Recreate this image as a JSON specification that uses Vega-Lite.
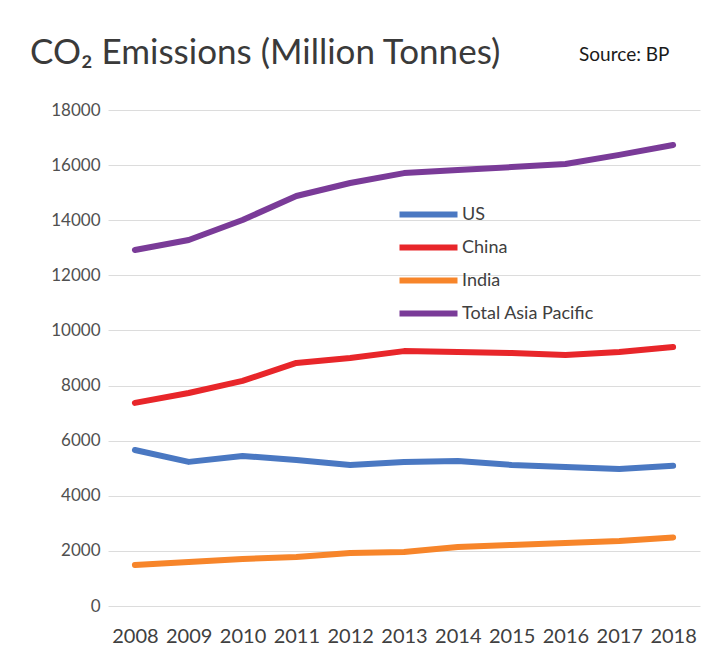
{
  "$schema": "https://vega.github.io/schema/vega-lite/v6.json",
  "autosize": {"type": "none"},
  "padding": {"left": 108, "top": 110, "right": 1, "bottom": 54},
  "width": 592,
  "height": 496,
  "background": "white",
  "title": {
    "text": "CO₂ Emissions (Million Tonnes)",
    "anchor": "start",
    "frame": "group",
    "dx": -78,
    "offset": -25,
    "font": "Lato",
    "fontSize": 35,
    "fontWeight": "normal",
    "color": "#3a3a3a"
  },
  "config": {
    "view": {"stroke": null},
    "font": "Lato"
  },
  "layer": [
    {
      "data": {
        "values": [
          {"year": "2008", "series": "US", "value": 5660},
          {"year": "2009", "series": "US", "value": 5230},
          {"year": "2010", "series": "US", "value": 5445},
          {"year": "2011", "series": "US", "value": 5300},
          {"year": "2012", "series": "US", "value": 5120},
          {"year": "2013", "series": "US", "value": 5230},
          {"year": "2014", "series": "US", "value": 5265},
          {"year": "2015", "series": "US", "value": 5120},
          {"year": "2016", "series": "US", "value": 5045},
          {"year": "2017", "series": "US", "value": 4975},
          {"year": "2018", "series": "US", "value": 5090},
          {"year": "2008", "series": "China", "value": 7370},
          {"year": "2009", "series": "China", "value": 7730},
          {"year": "2010", "series": "China", "value": 8170},
          {"year": "2011", "series": "China", "value": 8820},
          {"year": "2012", "series": "China", "value": 9000},
          {"year": "2013", "series": "China", "value": 9250},
          {"year": "2014", "series": "China", "value": 9220},
          {"year": "2015", "series": "China", "value": 9180},
          {"year": "2016", "series": "China", "value": 9110},
          {"year": "2017", "series": "China", "value": 9220},
          {"year": "2018", "series": "China", "value": 9400},
          {"year": "2008", "series": "India", "value": 1490},
          {"year": "2009", "series": "India", "value": 1600},
          {"year": "2010", "series": "India", "value": 1705},
          {"year": "2011", "series": "India", "value": 1780},
          {"year": "2012", "series": "India", "value": 1920},
          {"year": "2013", "series": "India", "value": 1960},
          {"year": "2014", "series": "India", "value": 2140},
          {"year": "2015", "series": "India", "value": 2215},
          {"year": "2016", "series": "India", "value": 2290},
          {"year": "2017", "series": "India", "value": 2360},
          {"year": "2018", "series": "India", "value": 2490},
          {"year": "2008", "series": "Total Asia Pacific", "value": 12920},
          {"year": "2009", "series": "Total Asia Pacific", "value": 13280},
          {"year": "2010", "series": "Total Asia Pacific", "value": 14010},
          {"year": "2011", "series": "Total Asia Pacific", "value": 14880},
          {"year": "2012", "series": "Total Asia Pacific", "value": 15350},
          {"year": "2013", "series": "Total Asia Pacific", "value": 15710},
          {"year": "2014", "series": "Total Asia Pacific", "value": 15820},
          {"year": "2015", "series": "Total Asia Pacific", "value": 15930},
          {"year": "2016", "series": "Total Asia Pacific", "value": 16040},
          {"year": "2017", "series": "Total Asia Pacific", "value": 16370},
          {"year": "2018", "series": "Total Asia Pacific", "value": 16730}
        ]
      },
      "mark": {"type": "line", "strokeWidth": 6, "strokeCap": "round", "strokeJoin": "round"},
      "encoding": {
        "x": {
          "field": "year",
          "type": "ordinal",
          "scale": {"type": "point", "padding": 0.5},
          "axis": {
            "title": null,
            "labelAngle": 0,
            "labelFontSize": 20,
            "labelColor": "#404040",
            "labelPadding": 20,
            "domain": false,
            "ticks": false,
            "grid": false
          }
        },
        "y": {
          "field": "value",
          "type": "quantitative",
          "scale": {"domain": [0, 18000], "nice": false},
          "axis": {
            "title": null,
            "values": [0, 2000, 4000, 6000, 8000, 10000, 12000, 14000, 16000, 18000],
            "format": "d",
            "labelFontSize": 17,
            "labelColor": "#505050",
            "labelPadding": 8,
            "domain": false,
            "ticks": false,
            "grid": true,
            "gridColor": "#dcdcdc",
            "gridWidth": 1
          }
        },
        "color": {
          "field": "series",
          "type": "nominal",
          "scale": {
            "domain": ["US", "China", "India", "Total Asia Pacific"],
            "range": ["#4a78c2", "#e8262a", "#f7852a", "#7a3b98"]
          },
          "legend": {
            "title": null,
            "orient": "none",
            "legendX": 303,
            "legendY": 87,
            "symbolType": "M-2,0H2",
            "symbolSize": 841,
            "symbolStrokeWidth": 6,
            "labelFontSize": 18,
            "labelColor": "#404040",
            "labelOffset": 16,
            "rowPadding": 3
          }
        }
      }
    },
    {
      "data": {"values": [{}]},
      "mark": {"type": "text", "clip": false, "font": "Lato", "fontSize": 19, "color": "#1a1a1a", "align": "center", "baseline": "middle", "dx": 5},
      "encoding": {
        "x": {"datum": "2017"},
        "y": {"datum": 20000},
        "text": {"value": "Source: BP"}
      }
    }
  ]
}
